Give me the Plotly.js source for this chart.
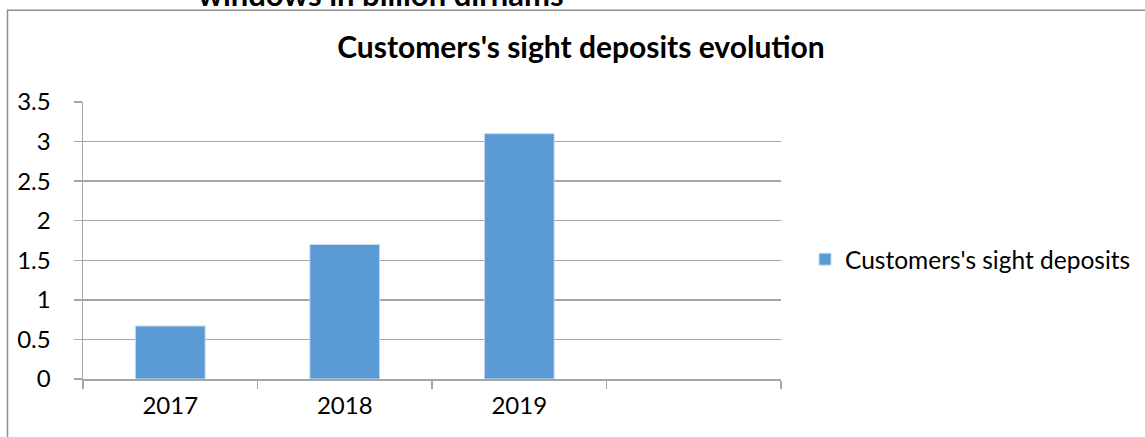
<!DOCTYPE html>
<html>
<head>
<meta charset="utf-8">
<script src="https://cdn.plot.ly/plotly-3.0.1.min.js"></script>
<style>html,body{margin:0;padding:0;background:#fff;}#chart{width:1145px;height:437px;}</style>
</head>
<body>
<div id="chart"></div>
<script>
const categories = ['2017', '2018', '2019', ' '];
const deposits = [0.67, 1.7, 3.1, null];
const seriesName = "Customers's sight deposits";
const chartTitle = "Customers's sight deposits evolution";
const cutTitle = "windows in billion dirhams";
const yTicks = [0, 0.5, 1, 1.5, 2, 2.5, 3, 3.5];
const yTickText = ['0', '0.5', '1', '1.5', '2', '2.5', '3', '3.5'];

const FONT = 'Lato, "Open Sans", sans-serif';
const GRID = '#a6a6a6';
const W = 1145, H = 437;
const L = 83, R = 781, T = 101.5, B = 379;
const px = x => (x - L) / (R - L);
const py = y => (B - y) / (B - T);

const trace = {
  type: 'bar',
  x: categories,
  y: deposits,
  name: seriesName,
  width: 0.4,
  marker: {color: '#5b9bd5', line: {color: '#c9dcef', width: 1}},
  showlegend: true,
  hoverinfo: 'x+y'
};

const layout = {
  width: W, height: H,
  margin: {l: L, r: W - R, t: T, b: H - B, pad: 0, autoexpand: false},
  paper_bgcolor: '#ffffff',
  plot_bgcolor: '#ffffff',
  font: {family: FONT, size: 24, color: '#000'},
  title: {
    text: '<b>' + chartTitle + '</b>',
    font: {family: FONT, size: 30, color: '#000'},
    xref: 'container', x: 581 / W, xanchor: 'center',
    yref: 'container', y: 1 - 47 / H, yanchor: 'middle'
  },
  xaxis: {
    type: 'category',
    categoryorder: 'array',
    categoryarray: categories,
    range: [-0.5, 3.5],
    tickson: 'boundaries',
    ticks: 'outside', ticklen: 8, tickcolor: GRID, tickwidth: 1.5,
    showline: true, linecolor: GRID, linewidth: 1.5,
    showgrid: false, zeroline: false,
    tickfont: {family: FONT, size: 24, color: '#000'},
    ticklabelstandoff: 5,
    automargin: false,
    fixedrange: true
  },
  yaxis: {
    range: [0, 3.5],
    tickvals: yTicks, ticktext: yTickText,
    ticks: 'outside', ticklen: 8, tickcolor: GRID, tickwidth: 1.5,
    showline: true, linecolor: GRID, linewidth: 1.5,
    showgrid: true, gridcolor: GRID, gridwidth: 1.5,
    zeroline: false,
    tickfont: {family: FONT, size: 24, color: '#000'},
    ticklabelstandoff: 18,
    automargin: false,
    fixedrange: true
  },
  showlegend: true,
  legend: {
    x: px(805), xanchor: 'left',
    y: py(259), yanchor: 'middle',
    font: {family: FONT, size: 24.5, color: '#000'},
    bgcolor: 'rgba(0,0,0,0)'
  },
  annotations: [{
    text: '<b>' + cutTitle + '</b>',
    xref: 'paper', yref: 'paper',
    x: px(196), xanchor: 'left',
    y: py(-7), yanchor: 'middle',
    showarrow: false,
    font: {family: FONT, size: 31, color: '#000'}
  }],
  shapes: [{
    type: 'rect', xref: 'paper', yref: 'paper',
    x0: px(7.5), x1: px(1200), y0: py(9.5), y1: py(500),
    line: {color: '#8f8f8f', width: 1.5},
    fillcolor: 'rgba(0,0,0,0)', layer: 'below'
  }]
};

Plotly.newPlot('chart', [trace], layout, {displayModeBar: false, staticPlot: true});
</script>
</body>
</html>
